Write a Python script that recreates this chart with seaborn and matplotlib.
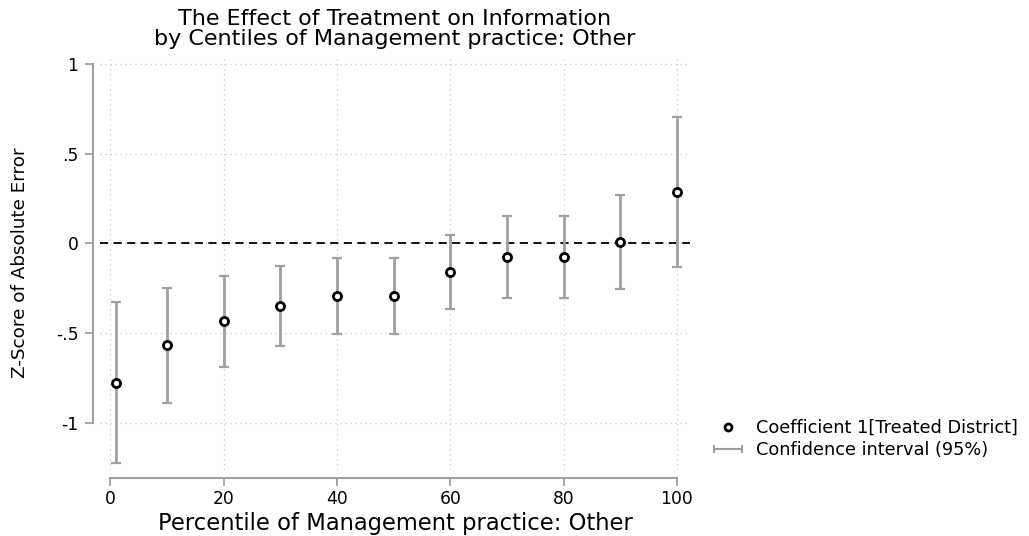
import matplotlib
matplotlib.use("Agg")
import matplotlib.pyplot as plt
import seaborn as sns
import pandas as pd
from matplotlib.lines import Line2D
from matplotlib.legend_handler import HandlerLine2D

# ---- data ----
percentiles = [1, 10, 20, 30, 40, 50, 60, 70, 80, 90, 100]
coef = [-0.778, -0.568, -0.433, -0.349, -0.295, -0.294, -0.160, -0.076, -0.076, 0.007, 0.288]
ci_low = [-1.227, -0.890, -0.689, -0.572, -0.505, -0.505, -0.369, -0.306, -0.306, -0.256, -0.132]
ci_high = [-0.330, -0.247, -0.180, -0.126, -0.084, -0.084, 0.048, 0.154, 0.154, 0.267, 0.707]
x_ticks = [0, 20, 40, 60, 80, 100]
y_ticks = [-1, -0.5, 0, 0.5, 1]
y_ticklabels = ["-1", "-.5", "0", ".5", "1"]

title = "The Effect of Treatment on Information\nby Centiles of Management practice: Other"
xlabel = "Percentile of Management practice: Other"
ylabel = "Z-Score of Absolute Error"
leg_labels = ["Coefficient 1[Treated District]", "Confidence interval (95%)"]

df = pd.DataFrame({"pct": percentiles, "coef": coef, "lo": ci_low, "hi": ci_high})

sns.set_theme(style="white")
plt.rcParams['font.family'] = ['DejaVu Sans']
plt.rcParams['text.color'] = 'black'
plt.rcParams['axes.labelcolor'] = 'black'

GRAY = "#a0a0a0"
fig = plt.figure(figsize=(10.29, 5.36), dpi=100)
ax = fig.add_axes([100/1029, 1 - 470/536, 590/1029, (470-56)/536])

# confidence intervals
ax.errorbar(df["pct"], df["coef"],
            yerr=[df["coef"] - df["lo"], df["hi"] - df["coef"]],
            fmt="none", ecolor=GRAY, elinewidth=2.0, capsize=3.4, capthick=1.6, zorder=2)
# point estimates
sns.scatterplot(data=df, x="pct", y="coef", ax=ax, marker="o", s=34,
                facecolor="white", edgecolor="black", linewidth=2.0, zorder=3, legend=False)

ax.axhline(0, color="black", linestyle=(0, (4.5, 3)), linewidth=1.3, zorder=1)

ax.set_xlim(-1.8, 102.3)
ax.set_ylim(-1.265, 1.045)
ax.set_xticks(x_ticks)
ax.set_yticks(y_ticks)
ax.set_yticklabels(y_ticklabels)
ax.grid(True, color="#c8c8c8", linestyle=(0, (1, 3)), linewidth=0.9)
ax.set_axisbelow(True)

for s in ["top", "right"]:
    ax.spines[s].set_visible(False)
ax.spines["left"].set_position(("outward", 5))
ax.spines["bottom"].set_position(("outward", 6))
ax.spines["left"].set_bounds(-1, 1)
ax.spines["bottom"].set_bounds(0, 100)
for s in ["left", "bottom"]:
    ax.spines[s].set_color(GRAY)
    ax.spines[s].set_linewidth(1.5)
ax.tick_params(axis="both", which="both", direction="out", length=5.5, width=1.3,
               color=GRAY, labelsize=12.3, labelcolor="black",
               left=True, bottom=True)
ax.tick_params(axis="y", pad=5)
ax.tick_params(axis="x", pad=3)

ax.set_xlabel(xlabel, fontsize=16.3, labelpad=3, color="black")
ax.set_ylabel(ylabel, fontsize=13.2, labelpad=19, color="black")
ax.set_title(title, fontsize=16, pad=8, linespacing=1.0, color="black")

h_coef = Line2D([0], [0], linestyle="none", marker="o", markersize=5,
                markerfacecolor="white", markeredgecolor="black", markeredgewidth=2)
h_ci = Line2D([0], [0], color=GRAY, linewidth=1.5, marker="|", markersize=6,
              markeredgewidth=1.5)
leg = fig.legend([h_coef, h_ci], leg_labels,
           handler_map={h_coef: HandlerLine2D(numpoints=1), h_ci: HandlerLine2D(numpoints=2)},
           loc="center left", bbox_to_anchor=(709/1029, 1 - 439/536),
           frameon=False, fontsize=12.8, handlelength=2.15, handletextpad=0.5,
           labelspacing=0.2, borderaxespad=0, borderpad=0)
for t in leg.get_texts():
    t.set_color("black")

fig.savefig("out.png", dpi=100)
